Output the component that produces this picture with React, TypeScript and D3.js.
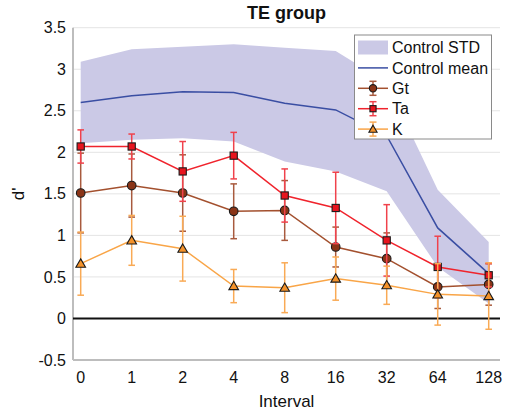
import * as d3 from "d3";

// chart values
const intervals = ["0", "1", "2", "4", "8", "16", "32", "64", "128"];
const controlMean = [2.6, 2.68, 2.73, 2.72, 2.59, 2.51, 2.2, 1.09, 0.54];
const controlUpper = [3.09, 3.24, 3.27, 3.3, 3.26, 3.22, 2.84, 1.55, 0.92];
const controlLower = [2.11, 2.15, 2.17, 2.13, 1.89, 1.77, 1.53, 0.62, 0.18];
const gtMean = [1.51, 1.6, 1.51, 1.29, 1.3, 0.86, 0.72, 0.38, 0.41];
const gtErr = [0.48, 0.38, 0.46, 0.33, 0.36, 0.24, 0.31, 0.26, 0.25];
const taMean = [2.07, 2.07, 1.77, 1.96, 1.48, 1.33, 0.94, 0.62, 0.52];
const taErr = [0.2, 0.15, 0.36, 0.28, 0.32, 0.43, 0.43, 0.37, 0.14];
const kMean = [0.66, 0.94, 0.84, 0.39, 0.37, 0.48, 0.4, 0.29, 0.27];
const kErr = [0.38, 0.3, 0.39, 0.2, 0.3, 0.26, 0.23, 0.37, 0.4];
const yTicks = [-0.5, 0, 0.5, 1, 1.5, 2, 2.5, 3, 3.5];

const width = 507;
const height = 415;
const plot = { left: 73, right: 500, top: 27.7, bottom: 360 };
const font = "'Liberation Sans', Arial, Helvetica, sans-serif";

type Series = {
  name: string;
  mean: number[];
  err: number[];
  line: string;
  errColor: string;
  fill: string;
  shape: "circle" | "square" | "triangle";
};

const series: Series[] = [
  { name: "Gt", mean: gtMean, err: gtErr, line: "#a3502e", errColor: "#a85a3e", fill: "#8a3417", shape: "circle" },
  { name: "Ta", mean: taMean, err: taErr, line: "#f0232c", errColor: "#f0424c", fill: "#e8141e", shape: "square" },
  { name: "K", mean: kMean, err: kErr, line: "#f9a547", errColor: "#f9aa55", fill: "#f4922a", shape: "triangle" },
];

const Marker = ({ shape, x, y, fill, s = 1 }: { shape: Series["shape"]; x: number; y: number; fill: string; s?: number }) => {
  if (shape === "circle") return <circle cx={x} cy={y} r={4.3 * s} fill={fill} stroke="#1a1a1a" strokeWidth={1.1} />;
  if (shape === "square")
    return <rect x={x - 3.6 * s} y={y - 3.6 * s} width={7.2 * s} height={7.2 * s} fill={fill} stroke="#1a1a1a" strokeWidth={1.1} />;
  const sym = d3.symbol(d3.symbolTriangle, 40 * s * s)();
  return <path d={sym ?? ""} transform={`translate(${x},${y + 0.8})`} fill={fill} stroke="#1a1a1a" strokeWidth={1.1} />;
};

export default function App() {
  const x = d3.scalePoint<string>().domain(intervals).range([80.7, 488.7]);
  const y = d3.scaleLinear().domain([-0.5, 3.5]).range([plot.bottom, plot.top]);

  const band = d3
    .area<number>()
    .x((_, i) => x(intervals[i])!)
    .y0((_, i) => y(controlLower[i]))
    .y1((_, i) => y(controlUpper[i]));
  const meanLine = d3
    .line<number>()
    .x((_, i) => x(intervals[i])!)
    .y((d) => y(d));

  const legendX = 354.5;
  const legendY = 35;
  const rowY = (i: number) => legendY + 12.5 + i * 20.4;

  return (
    <svg
      width={width}
      height={height}
      style={{ position: "absolute", left: 0, top: 0, background: "#fff" }}
      fontFamily={font}
    >
      {/* grid */}
      {yTicks.map((t) => (
        <line key={t} x1={plot.left} x2={plot.right} y1={y(t)} y2={y(t)} stroke="#e4e4e4" strokeWidth={1} />
      ))}

      {/* control band + mean */}
      <path d={band(controlMean) ?? ""} fill="#cbc9e6" />
      <path d={meanLine(controlMean) ?? ""} fill="none" stroke="#3a4ea3" strokeWidth={1.5} />

      {/* axes */}
      <line x1={plot.left} x2={plot.left} y1={plot.top} y2={plot.bottom} stroke="#bdbdbd" strokeWidth={2} />
      <line x1={plot.left} x2={plot.right} y1={plot.bottom} y2={plot.bottom} stroke="#bdbdbd" strokeWidth={2} />
      <line x1={plot.left} x2={plot.right} y1={y(0)} y2={y(0)} stroke="#111" strokeWidth={2} />

      {/* series */}
      {series.map((s) => (
        <g key={s.name}>
          {s.mean.map((m, i) => {
            const cx = x(intervals[i])!;
            const y1 = y(m + s.err[i]);
            const y2 = y(m - s.err[i]);
            return (
              <g key={i} stroke={s.errColor} strokeWidth={1.5}>
                <line x1={cx} x2={cx} y1={y1} y2={y2} />
                <line x1={cx - 3.3} x2={cx + 3.3} y1={y1} y2={y1} />
                <line x1={cx - 3.3} x2={cx + 3.3} y1={y2} y2={y2} />
              </g>
            );
          })}
          <path d={meanLine(s.mean) ?? ""} fill="none" stroke={s.line} strokeWidth={1.5} />
          {s.mean.map((m, i) => (
            <Marker key={i} shape={s.shape} x={x(intervals[i])!} y={y(m)} fill={s.fill} />
          ))}
        </g>
      ))}

      {/* y tick labels */}
      {yTicks.map((t) => (
        <text key={t} x={66} y={y(t)} dy="0.35em" textAnchor="end" fontSize={16} fill="#111">
          {t}
        </text>
      ))}
      {/* x tick labels */}
      {intervals.map((c) => (
        <text key={c} x={x(c)!} y={383} textAnchor="middle" fontSize={16} fill="#111">
          {c}
        </text>
      ))}

      <text x={286.5} y={407} textAnchor="middle" fontSize={17} fill="#111">
        Interval
      </text>
      <text transform={`translate(24,${(plot.top + plot.bottom) / 2}) rotate(-90)`} textAnchor="middle" fontSize={17} fill="#111">
        d'
      </text>
      <text x={286.5} y={19} textAnchor="middle" fontSize={18} fontWeight="bold" fill="#111">
        TE group
      </text>

      {/* legend */}
      <g>
        <rect x={legendX} y={legendY} width={137} height={104} fill="#fff" stroke="#8a8a8a" strokeWidth={1} />
        <rect x={358} y={rowY(0) - 7} width={30} height={14} fill="#cbc9e6" />
        <line x1={358} x2={388} y1={rowY(1)} y2={rowY(1)} stroke="#3a4ea3" strokeWidth={1.5} />
        {series.map((s, i) => {
          const ry = rowY(i + 2);
          return (
            <g key={s.name}>
              <g stroke={s.errColor} strokeWidth={1.5}>
                <line x1={373} x2={373} y1={ry - 7} y2={ry + 7} />
                <line x1={369.5} x2={376.5} y1={ry - 7} y2={ry - 7} />
                <line x1={369.5} x2={376.5} y1={ry + 7} y2={ry + 7} />
              </g>
              <line x1={358} x2={388} y1={ry} y2={ry} stroke={s.line} strokeWidth={1.5} />
              <Marker shape={s.shape} x={373} y={ry} fill={s.fill} s={0.85} />
            </g>
          );
        })}
        {["Control STD", "Control mean", ...series.map((s) => s.name)].map((label, i) => (
          <text key={label} x={392} y={rowY(i)} dy="0.35em" fontSize={16} fill="#111">
            {label}
          </text>
        ))}
      </g>
    </svg>
  );
}
